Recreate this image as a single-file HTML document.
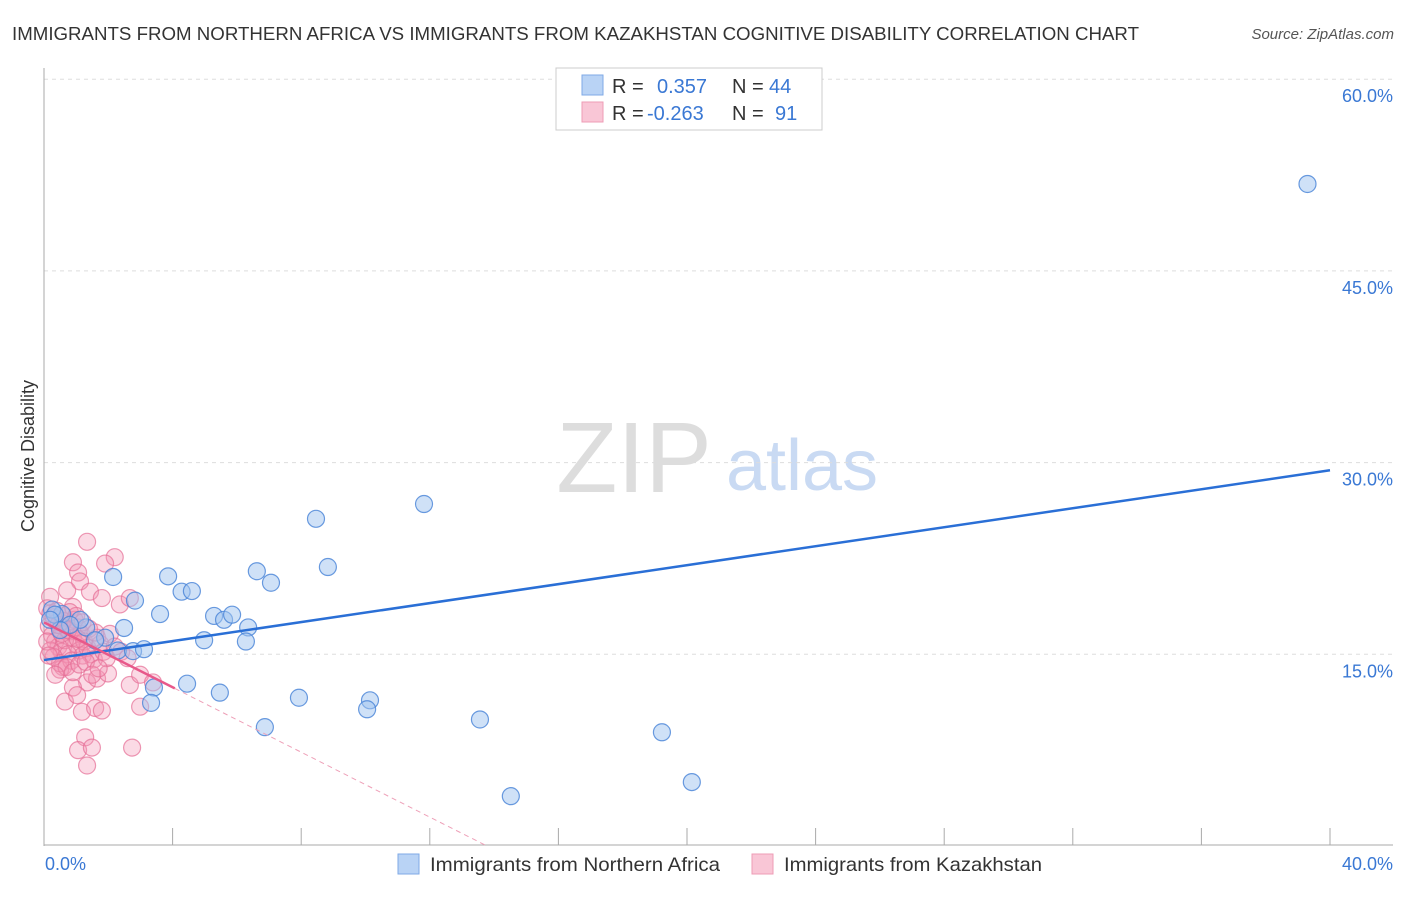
<!DOCTYPE html>
<html><head><meta charset="utf-8"><style>
body{margin:0;background:#fff;font-family:"Liberation Sans",sans-serif}
svg text{font-family:"Liberation Sans",sans-serif}
</style></head><body>
<svg id="c" width="1406" height="892">
<text x="12" y="40" font-size="18" fill="#333" textLength="1127" lengthAdjust="spacingAndGlyphs">IMMIGRANTS FROM NORTHERN AFRICA VS IMMIGRANTS FROM KAZAKHSTAN COGNITIVE DISABILITY CORRELATION CHART</text>
<text x="1394" y="39" font-size="15" fill="#555" font-style="italic" text-anchor="end">Source: ZipAtlas.com</text>
<text x="34" y="456" font-size="18" fill="#333" transform="rotate(-90 34 456)" text-anchor="middle">Cognitive Disability</text>
<g>
<text x="634" y="492" font-size="100" fill="#ddd" font-family="Liberation Serif" text-anchor="middle">ZIP</text>
<text x="802" y="490" font-size="72" fill="#c9daf3" text-anchor="middle">atlas</text></g>
<g id="grid"></g><g id="marks"></g>
<g>
<rect x="556" y="68" width="266" height="62" fill="#fff" stroke="#ccc"/>
<rect x="582" y="75" width="21" height="20" fill="#b9d3f5" stroke="#7fa9e6"/>
<rect x="582" y="102" width="21" height="20" fill="#f9c6d6" stroke="#ee9cb6"/>
<text x="612" y="93" font-size="20" fill="#333">R =</text>
<text x="657" y="93" font-size="20" fill="#3a78d4">0.357</text>
<text x="732" y="93" font-size="20" fill="#333">N =</text>
<text x="769" y="93" font-size="20" fill="#3a78d4">44</text>
<text x="612" y="120" font-size="20" fill="#333">R =</text>
<text x="647" y="120" font-size="20" fill="#3a78d4">-0.263</text>
<text x="732" y="120" font-size="20" fill="#333">N =</text>
<text x="775" y="120" font-size="20" fill="#3a78d4">91</text></g>
<g>
<rect x="398" y="854" width="21" height="20" fill="#b9d3f5" stroke="#7fa9e6"/>
<text x="430" y="871" font-size="19.5" fill="#333" textLength="290" lengthAdjust="spacingAndGlyphs">Immigrants from Northern Africa</text>
<rect x="752" y="854" width="21" height="20" fill="#f9c6d6" stroke="#ee9cb6"/>
<text x="784" y="871" font-size="19.5" fill="#333" textLength="258" lengthAdjust="spacingAndGlyphs">Immigrants from Kazakhstan</text></g>
</svg>
<script>
const yTicks=[15,30,45,60];
const yTickLabels=["15.0%","30.0%","45.0%","60.0%"];
const xTicks=[0,4,8,12,16,20,24,28,32,36,40];
const blueX=[39.3,11.82,8.46,8.83,6.62,7.06,2.15,3.86,4.28,4.6,2.83,3.61,5.29,5.6,5.85,6.35,2.49,4.98,6.28,1.9,1.31,0.56,0.25,1.12,2.3,2.77,3.11,4.45,3.42,3.33,5.47,7.93,10.14,10.05,6.87,13.56,19.22,20.15,14.52,0.34,0.81,1.59,0.5,0.19];
const blueY=[51.8,26.76,25.6,21.83,21.5,20.6,21.05,21.1,19.9,19.95,19.2,18.15,18.0,17.7,18.1,17.1,17.06,16.1,16.0,16.3,17.1,18.15,18.5,17.7,15.3,15.25,15.4,12.7,12.4,11.2,12.0,11.6,11.4,10.7,9.3,9.9,8.9,5.0,3.9,18.1,17.3,16.1,16.9,17.7];
const pinkX=[1.34,0.9,2.2,1.9,1.06,1.12,0.72,1.43,1.8,2.36,2.67,0.9,0.19,0.59,1.34,1.65,1.99,2.67,2.99,3.39,0.65,1.18,1.59,1.8,2.99,1.28,1.06,1.49,2.74,1.34,0.5,0.9,1.03,
0.1,0.2,0.3,0.4,0.5,0.15,0.25,0.35,0.45,0.55,0.6,0.7,0.8,0.9,1.0,1.1,1.2,0.65,0.75,0.85,0.95,1.05,1.15,1.25,1.35,1.45,1.55,1.65,1.75,1.85,1.95,2.05,2.2,2.4,0.3,0.5,0.7,0.9,1.1,1.3,0.2,0.4,0.6,0.8,1.0,1.2,1.4,1.6,0.1,0.15,0.55,0.75,1.5,1.7,0.35,2.6,0.45,1.05];
const pinkY=[23.8,22.2,22.6,22.1,21.4,20.7,20.0,19.9,19.4,18.9,19.4,18.7,19.5,14.0,12.8,13.1,13.5,12.6,13.4,12.8,11.3,10.5,10.8,10.6,10.9,8.5,7.5,7.7,7.7,6.3,13.8,12.4,11.8,
18.6,18.2,17.9,17.5,17.0,17.2,16.5,16.0,15.6,15.2,18.0,17.4,16.8,16.3,15.8,15.3,14.9,16.1,15.0,14.5,17.7,17.1,16.6,16.0,15.5,15.0,14.6,16.3,15.8,15.2,14.7,16.6,15.6,15.2,14.8,14.3,14.0,13.6,14.2,14.4,15.3,18.4,17.6,18.3,18.0,17.5,17.0,16.7,16.0,14.9,16.6,16.9,13.4,13.9,13.4,14.7,17.3,16.2];
const blueTrend=[14.55,29.4];   // y at x=0 and x=40
const pinkTrend=[17.5,-1.27];    // intercept, slope
const X=v=>44+v/40*1286, Y=v=>846-v*12.78;
const NS="http://www.w3.org/2000/svg";
function mk(t,a,p){const e=document.createElementNS(NS,t);for(const k in a)e.setAttribute(k,a[k]);p.appendChild(e);return e;}
const g=document.getElementById('grid'),m=document.getElementById('marks');
yTicks.forEach((t,i)=>{
 const l=mk('line',{x1:44,x2:1393,y1:Y(t),y2:Y(t),stroke:'#ddd','stroke-dasharray':'4,4'},g);
 
 
 const tx=mk('text',{x:1393,y:Y(t)+23,'font-size':18,fill:'#3a78d4','text-anchor':'end'},g);tx.textContent=yTickLabels[i];
 
 
});
const yl=mk('line',{x1:44,x2:44,y1:68,y2:846,stroke:'#aaa'},g);


const xl=mk('line',{x1:44,x2:1393,y1:845,y2:845,stroke:'#aaa'},g);


xTicks.forEach(t=>{const l=mk('line',{x1:X(t),x2:X(t),y1:828,y2:845,stroke:'#aaa'},g);
 
 });
const x0=mk('text',{x:45,y:870,'font-size':18,fill:'#3a78d4'},g);x0.textContent='0.0%';


const x1=mk('text',{x:1393,y:870,'font-size':18,fill:'#3a78d4','text-anchor':'end'},g);x1.textContent='40.0%';


pinkX.forEach((v,i)=>{const c=mk('circle',{cx:X(v),cy:Y(pinkY[i]),r:8.5,fill:'rgba(244,150,180,0.35)',stroke:'rgba(230,110,150,0.7)','stroke-width':1.2},m);
 
 });
blueX.forEach((v,i)=>{const c=mk('circle',{cx:X(v),cy:Y(blueY[i]),r:8.5,fill:'rgba(160,196,240,0.5)',stroke:'rgba(70,130,215,0.8)','stroke-width':1.2},m);
 
 });
const bt=mk('line',{x1:X(0),y1:Y(blueTrend[0]),x2:X(40),y2:Y(blueTrend[1]),stroke:'#2a6fd6','stroke-width':2.5},m);


const pe=4.07,pz=-pinkTrend[0]/pinkTrend[1];
const pt=mk('line',{x1:X(0),y1:Y(pinkTrend[0]),x2:X(pe),y2:Y(pinkTrend[0]+pinkTrend[1]*pe),stroke:'#e8588a','stroke-width':2.5},m);


const pd=mk('line',{x1:X(pe),y1:Y(pinkTrend[0]+pinkTrend[1]*pe),x2:X(pz),y2:Y(0),stroke:'#eea0b8','stroke-width':1,'stroke-dasharray':'5,4'},m);


</script>
</body></html>
